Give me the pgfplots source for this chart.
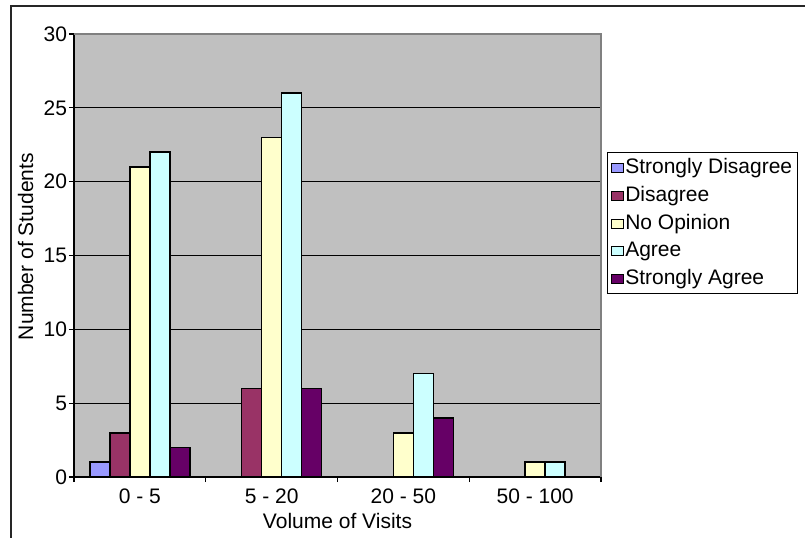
\documentclass[border=0pt]{standalone}
\usepackage{pgfplots}
\pgfplotsset{compat=1.18}
\usepackage{fontspec}
\setmainfont{Liberation Sans}

\definecolor{sdis}{HTML}{9999FF}
\definecolor{dis}{HTML}{993366}
\definecolor{noop}{HTML}{FFFFCC}
\definecolor{agr}{HTML}{CCFFFF}
\definecolor{sagr}{HTML}{660066}
\definecolor{plotbg}{HTML}{C0C0C0}
\definecolor{edge}{HTML}{808080}

\begin{document}
\begin{tikzpicture}
% page area
\path[use as bounding box] (0,0) rectangle (402.5pt,268.5pt);
% chart frame
\draw[line width=1pt, black!85] (5.5pt,-2pt) -- (5.5pt,265.5pt) -- (410pt,265.5pt);

\begin{axis}[
  at={(37pt,30pt)}, anchor=south west,
  scale only axis, width=263.5pt, height=221.5pt,
  font=\fontsize{10.5pt}{12.6pt}\selectfont,
  /pgf/number format/assume math mode=true,
  axis background/.style={fill=plotbg},
  axis x line*=bottom, axis y line*=left,
  axis line style={black, line width=0.6pt},
  ybar, bar width=10pt,
  xmin=-0.5, xmax=3.5, ymin=0, ymax=30,
  xtick={0,1,2,3},
  xticklabels={0 - 5, 5 - 20, 20 - 50, 50 - 100},
  major x tick style={draw=none},
  minor xtick={-0.5,0.5,1.5,2.5,3.5},
  minor x tick style={black, line width=0.6pt},
  ytick={0,5,...,30},
  major y tick style={black, line width=0.6pt},
  y tick label style={inner xsep=0.8pt},
  tick align=outside,
  major tick length=2.5pt, minor tick length=2.5pt,
  ymajorgrids, major grid style={black, line width=0.5pt},
  xlabel={Volume of Visits},
  ylabel={Number of Students},
  xlabel style={at={(axis description cs:0.5,-0.099)}, anchor=center},
  ylabel style={at={(axis description cs:-0.092,0.52)}, anchor=center},
  legend style={at={(1.0114,0.7336)}, anchor=north west, draw=black,
    line width=0.5pt, inner xsep=1.5pt, inner ysep=2.7pt,
    row sep=4.25pt, font=\fontsize{10.5pt}{12.6pt}\selectfont,
    nodes={inner ysep=0.3pt, inner xsep=1pt}},
  legend cell align=left,
  legend image code/.code={\draw[#1, line width=0.4pt] (0pt,-2.25pt) rectangle (6pt,2.25pt);},
  after end axis/.code={
    \draw[edge, line width=0.6pt] (rel axis cs:0,1) -- (rel axis cs:1,1) -- (rel axis cs:1,0);
  },
]
\addplot[draw=black, line width=0.8pt, fill=sdis, bar shift=-20pt] coordinates {(0,1)};
\addplot[draw=black, line width=0.8pt, fill=dis,  bar shift=-10pt] coordinates {(0,3) (1,6)};
\addplot[draw=black, line width=0.8pt, fill=noop, bar shift=0pt] coordinates {(0,21) (1,23) (2,3) (3,1)};
\addplot[draw=black, line width=0.8pt, fill=agr,  bar shift=10pt] coordinates {(0,22) (1,26) (2,7) (3,1)};
\addplot[draw=black, line width=0.8pt, fill=sagr, bar shift=20pt] coordinates {(0,2) (1,6) (2,4)};
\legend{Strongly Disagree, Disagree, No Opinion, Agree, Strongly Agree}
\end{axis}
\end{tikzpicture}
\end{document}
